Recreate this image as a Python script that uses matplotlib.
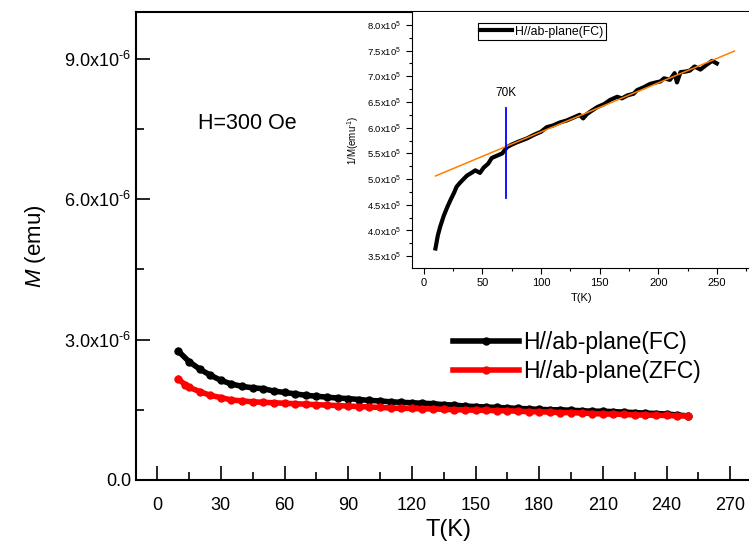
import matplotlib
matplotlib.use('Agg')
import matplotlib.pyplot as plt
from matplotlib.ticker import MultipleLocator, FuncFormatter

plt.rcParams['font.family'] = ['Liberation Sans', 'DejaVu Sans']
plt.rcParams['mathtext.fontset'] = 'custom'
plt.rcParams['mathtext.rm'] = 'Liberation Sans'
plt.rcParams['mathtext.it'] = 'Liberation Sans:italic'

# main panel: M vs T (units of 1e-6 emu)
t_fc = [10, 15, 20, 25, 30, 35, 40, 45, 50, 55, 60, 65, 70, 75, 80, 85, 90, 95, 100,
        105, 110, 115, 120, 125, 130, 135, 140, 145, 150, 155, 160, 165, 170, 175,
        180, 185, 190, 195, 200, 205, 210, 215, 220, 225, 230, 235, 240, 245, 250]
m_fc = [2.75, 2.53, 2.37, 2.24, 2.13, 2.05, 2.00, 1.97, 1.95, 1.90, 1.87, 1.84, 1.81,
        1.79, 1.77, 1.75, 1.74, 1.72, 1.70, 1.69, 1.67, 1.66, 1.65, 1.64, 1.63, 1.61,
        1.60, 1.58, 1.57, 1.56, 1.55, 1.54, 1.53, 1.52, 1.51, 1.50, 1.50, 1.49, 1.48,
        1.47, 1.47, 1.46, 1.45, 1.44, 1.43, 1.42, 1.41, 1.39, 1.37]
t_zfc = [10, 13, 15, 20, 25, 30, 35, 40, 45, 50, 55, 60, 65, 70, 75, 80, 85, 90, 95,
         100, 105, 110, 115, 120, 125, 130, 135, 140, 145, 150, 155, 160, 165, 170,
         175, 180, 185, 190, 195, 200, 205, 210, 215, 220, 225, 230, 235, 240, 245, 250]
m_zfc = [2.16, 2.04, 1.98, 1.89, 1.81, 1.76, 1.71, 1.69, 1.67, 1.66, 1.65, 1.64, 1.63,
         1.62, 1.61, 1.60, 1.59, 1.58, 1.57, 1.56, 1.55, 1.54, 1.53, 1.53, 1.52, 1.52,
         1.51, 1.50, 1.50, 1.49, 1.49, 1.48, 1.48, 1.47, 1.46, 1.46, 1.45, 1.44, 1.44,
         1.43, 1.42, 1.41, 1.41, 1.40, 1.39, 1.39, 1.38, 1.38, 1.37, 1.37]

# inset: 1/M vs T (units of 1e5 emu^-1)
t_inv = [10, 12, 14, 17, 20, 23, 26, 28, 31, 34, 37, 40, 44, 48, 51, 55, 58, 62, 67,
         71, 75, 80, 88, 94, 100, 105, 110, 116, 122, 128, 133, 136, 139, 142, 148,
         154, 159, 165, 169, 174, 179, 182, 188, 193, 198, 202, 205, 210, 214, 216,
         219, 223, 227, 231, 236, 241, 246, 250]
inv_m = [3.65, 3.90, 4.07, 4.28, 4.45, 4.60, 4.74, 4.85, 4.93, 5.00, 5.07, 5.11, 5.17,
         5.12, 5.22, 5.30, 5.41, 5.45, 5.50, 5.62, 5.67, 5.72, 5.79, 5.86, 5.92, 6.01,
         6.04, 6.10, 6.14, 6.20, 6.25, 6.18, 6.26, 6.31, 6.40, 6.46, 6.54, 6.60, 6.57,
         6.63, 6.66, 6.73, 6.79, 6.85, 6.88, 6.90, 6.96, 6.93, 7.06, 6.88, 7.08, 7.09,
         7.11, 7.19, 7.13, 7.22, 7.30, 7.25]
fit_t = [10, 265]
fit_v = [5.06, 7.49]
cut_t = 70.5
cut_lo, cut_hi = 4.64, 6.38

W, H = 749, 546
fig = plt.figure(figsize=(W / 100, H / 100), dpi=100)

ax = fig.add_axes([136 / W, 66 / H, 626 / W, 468 / H])
ax.plot(t_fc, [v * 1e-6 for v in m_fc], '-', color='black', lw=4, marker='o', ms=5,
        label='H//ab-plane(FC)')
ax.plot(t_zfc, [v * 1e-6 for v in m_zfc], '-', color='red', lw=4, marker='o', ms=5,
        label='H//ab-plane(ZFC)')
ax.set_xlim(-10, 285)
ax.set_ylim(0, 1.0e-5)
ax.xaxis.set_major_locator(MultipleLocator(30))
ax.xaxis.set_minor_locator(MultipleLocator(15))
ax.yaxis.set_major_locator(MultipleLocator(3e-6))
ax.yaxis.set_minor_locator(MultipleLocator(1.5e-6))


def main_fmt(v, pos):
    if abs(v) < 1e-12:
        return '0.0'
    return '%.1fx10$^{\u20106}$' % (v * 1e6)


ax.yaxis.set_major_formatter(FuncFormatter(main_fmt))
ax.tick_params(which='both', direction='in', labelsize=13, width=1.2)
ax.tick_params(which='major', length=10)
ax.tick_params(which='minor', length=6)
ax.tick_params(axis='x', pad=12)
ax.spines['right'].set_visible(False)
for s in ['left', 'bottom', 'top']:
    ax.spines[s].set_linewidth(1.5)
ax.set_xlabel('T(K)', fontsize=17, labelpad=4)
ax.set_ylabel('$M$ (emu)', fontsize=16, labelpad=12)
ax.text(19, 7.62e-6, 'H=300 Oe', fontsize=15.5, va='center', ha='left')
ax.legend(loc='upper left', bbox_to_anchor=(453 / W, 1 - 331 / H),
          bbox_transform=fig.transFigure, frameon=False, fontsize=16.5,
          handlelength=2.9, handletextpad=0.15, labelspacing=0.25,
          borderpad=0, borderaxespad=0)

ins = fig.add_axes([412 / W, (H - 268) / H, 340 / W, 256 / H])
ins.plot(t_inv, [v * 1e5 for v in inv_m], '-', color='black', lw=3,
         label='H//ab-plane(FC)')
ins.plot(fit_t, [v * 1e5 for v in fit_v], '-', color='#ff8000', lw=1.1)
ins.plot([cut_t, cut_t], [cut_lo * 1e5, cut_hi * 1e5], '-', color='blue', lw=1.3)
ins.text(70, 6.67e5, '70K', fontsize=8.5, ha='center', va='center')
ins.set_xlim(-10, 280)
ins.set_ylim(3.27e5, 8.25e5)
ins.xaxis.set_major_locator(MultipleLocator(50))
ins.xaxis.set_minor_locator(MultipleLocator(25))
ins.yaxis.set_major_locator(MultipleLocator(0.5e5))
ins.yaxis.set_minor_locator(MultipleLocator(0.25e5))
ins.yaxis.set_major_formatter(FuncFormatter(lambda v, p: '%.1fx10$^5$' % (v / 1e5)))
ins.tick_params(which='both', direction='out', labelsize=6.8, width=0.8)
ins.tick_params(which='major', length=4)
ins.tick_params(which='minor', length=2.5)
ins.tick_params(axis='x', labelsize=8)
ins.spines['right'].set_visible(False)
ins.spines['top'].set_visible(False)
ins.set_xlabel('T(K)', fontsize=8, labelpad=3)
ins.set_ylabel('1/M(emu$^{\u20101}$)', fontsize=7, labelpad=5)
leg = ins.legend(loc='upper left', bbox_to_anchor=(0.176, 0.98), fontsize=8.8,
                 handlelength=2.6, handletextpad=0.25, borderpad=0.2,
                 fancybox=False, edgecolor='black', framealpha=1)
leg.get_frame().set_linewidth(0.8)

fig.savefig('out.png', dpi=100)
